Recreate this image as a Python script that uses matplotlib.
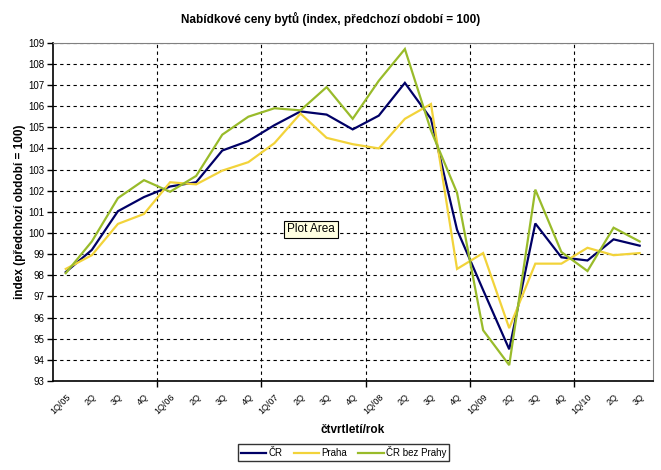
import matplotlib
matplotlib.use("Agg")
import matplotlib.pyplot as plt
from matplotlib.ticker import FixedLocator

plt.rcParams['font.family'] = ['Liberation Sans', 'DejaVu Sans']

quarters = ["1Q/05", "2Q", "3Q", "4Q", "1Q/06", "2Q", "3Q", "4Q",
            "1Q/07", "2Q", "3Q", "4Q", "1Q/08", "2Q", "3Q", "4Q",
            "1Q/09", "2Q", "3Q", "4Q", "1Q/10", "2Q", "3Q"]

cr = [98.15, 99.2, 101.03, 101.7, 102.2, 102.4, 103.9, 104.35, 105.1, 105.75,
      105.6, 104.9, 105.55, 107.1, 105.4, 100.15, 97.3, 94.5, 100.45, 98.85,
      98.7, 99.7, 99.4]
praha = [98.3, 98.95, 100.43, 100.9, 102.4, 102.3, 102.95, 103.35, 104.25, 105.65,
         104.5, 104.2, 104.0, 105.4, 106.1, 98.3, 99.05, 95.5, 98.55, 98.55,
         99.3, 98.95, 99.05]
cr_bez = [98.1, 99.6, 101.65, 102.5, 101.95, 102.7, 104.65, 105.5, 105.9, 105.8,
          106.9, 105.4, 107.2, 108.7, 104.85, 101.9, 95.4, 93.75, 102.05, 99.1,
          98.2, 100.25, 99.6]

series_names = ["ČR", "Praha", "ČR bez Prahy"]
colors = ["#000066", "#F2D33A", "#99BB2A"]

fig = plt.figure(figsize=(6.61, 4.70), dpi=100)
ax = fig.add_axes([52.7/661, 1-381/470, 600/661, (381-42.7)/470])

x = list(range(len(quarters)))
for vals, name, c in zip([cr, praha, cr_bez], series_names, colors):
    ax.plot(x, vals, color=c, lw=1.6, label=name, solid_joinstyle='miter')

ax.set_xlim(-0.5, len(quarters) - 0.5)
ax.set_ylim(93, 109)
ax.set_yticks(range(93, 110))
ax.tick_params(axis='y', labelsize=7, length=4, width=1, pad=2, direction='out')

ax.set_xticks(x)
ax.set_xticklabels(quarters, rotation=45, ha='right', va='top', rotation_mode='anchor', fontsize=6.5)
ax.tick_params(axis='x', which='major', length=0, pad=8)
ax.xaxis.set_minor_locator(FixedLocator([3.5, 7.5, 11.5, 15.5, 19.5]))
ax.tick_params(axis='x', which='minor', length=4, width=1, direction='out')

ax.grid(True, axis='y', which='major', color='black', linestyle=(0, (3, 3)), lw=0.8)
ax.grid(True, axis='x', which='minor', color='black', linestyle=(0, (3, 3)), lw=0.8)
ax.set_axisbelow(True)

ax.spines['left'].set_color('black')
ax.spines['bottom'].set_color('black')
ax.spines['left'].set_linewidth(1.2)
ax.spines['bottom'].set_linewidth(1.2)
ax.spines['top'].set_color('#808080')
ax.spines['right'].set_color('#808080')

fig.text(0.5, 1 - 19/470, "Nabídkové ceny bytů (index, předchozí období = 100)",
         ha='center', va='center', fontsize=8.5, fontweight='bold')
fig.text(20/661, 1 - 212/470, "index (předchozí období = 100)", rotation=90,
         ha='center', va='center', fontsize=8.5, fontweight='bold')
fig.text(353/661, 1 - 430/470, "čtvrtletí/rok", ha='center', va='center',
         fontsize=8.5, fontweight='bold')

ax.text(311/661, 1 - 229.5/470, "Plot Area", transform=fig.transFigure,
        ha='center', va='center', fontsize=8.5,
        bbox=dict(boxstyle='square,pad=0.25', fc='#FFFFE1', ec='black', lw=0.8), zorder=10)

leg = fig.legend(loc='center', bbox_to_anchor=(343.5/661, 1 - 452.5/470), ncol=3,
                 frameon=True, fancybox=False, edgecolor='black', fontsize=7,
                 handlelength=2.6, handletextpad=0.2, columnspacing=1.2,
                 borderpad=0.3)
leg.get_frame().set_linewidth(1.0)

fig.savefig("out.png", dpi=100)
